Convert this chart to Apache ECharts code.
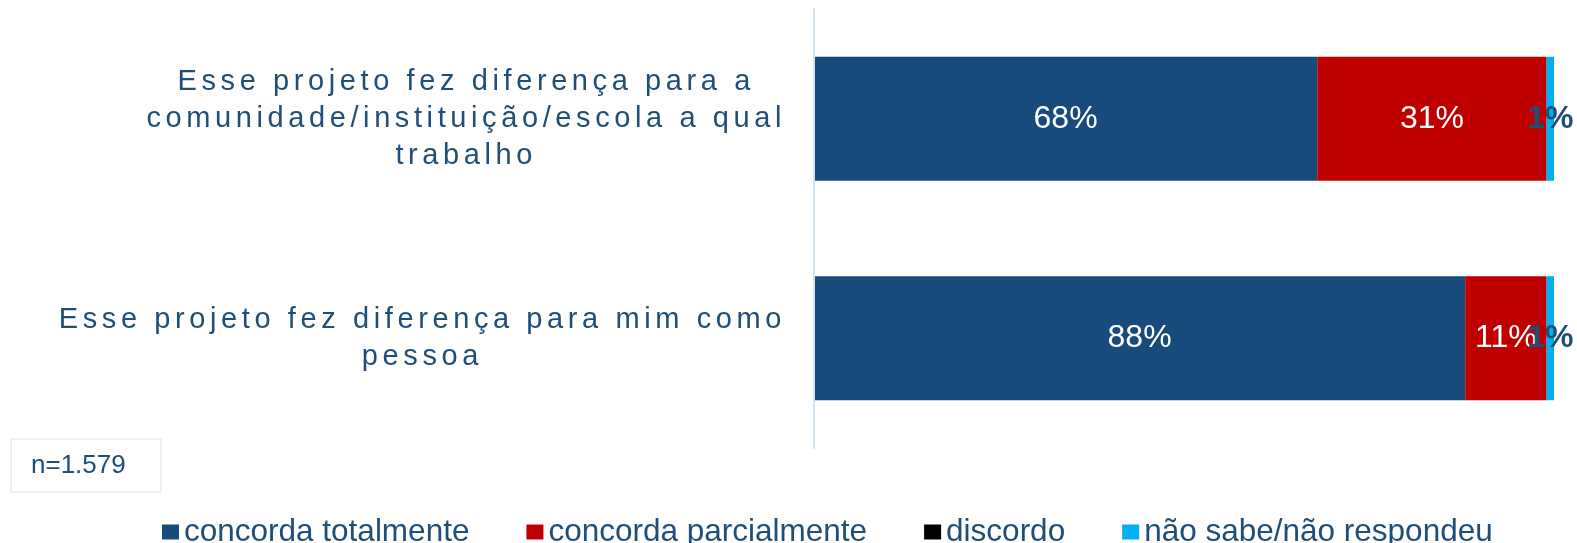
<!DOCTYPE html>
<html>
<head>
<meta charset="utf-8">
<script src="https://cdn.jsdelivr.net/npm/echarts@6/dist/echarts.min.js"></script>
<style>
  html, body { margin: 0; padding: 0; background: #fff; }
  #chart { width: 1577px; height: 543px; }
</style>
</head>
<body>
<div id="chart"></div>
<script>
var categories = [
	'Esse projeto fez diferença para a\ncomunidade/instituição/escola a qual\ntrabalho',
	'Esse projeto fez diferença para mim como\npessoa'
];
var seriesNames = ['concorda totalmente', 'concorda parcialmente', 'discordo', 'não sabe/não respondeu'];
var totalmente = [68, 88];
var parcialmente = [31, 11];
var discordo = [0, 0];
var naoSabe = [1, 1];
var sampleNote = 'n=1.579';

var textColor = '#1F4E79';
var colors = ['#184A7C', '#C00000', '#000000', '#00B0F0'];
var fontFamily = '"Liberation Sans", Arial, sans-serif';

// rótulos do eixo com espaçamento entre letras (canvas letterSpacing)
var labelSize = 29;
var tracking = 4.6;
var labelRight = 786;
var gridLeft = 814;

var mctx = document.createElement('canvas').getContext('2d');
mctx.font = labelSize + 'px ' + fontFamily;
var hasSpacing = 'letterSpacing' in mctx;
if (hasSpacing) mctx.letterSpacing = tracking + 'px';

function blockWidth(str) {
	var w = 0;
	str.split('\n').forEach(function(line) {
		var lw = mctx.measureText(line).width;
		if (!hasSpacing) lw += tracking * line.length;
		if (lw > w) w = lw;
	})
	return w
}
var widths = categories.map(blockWidth);
var maxW = Math.max.apply(null, widths);

var yData = categories.map(function(c, i) {
	return {
		value: c,
		textStyle: {
			align: 'center',
			padding: [0, 0, 0, maxW - widths[i]]
		}
	}
})

var myChart = echarts.init(document.getElementById('chart'));
var axisLayer = myChart.getZr().painter.getLayer(1);
if (axisLayer && axisLayer.ctx && hasSpacing) axisLayer.ctx.letterSpacing = tracking + 'px';

function pct(p) {
	return p.value ? p.value + '%' : ''
}

function makeSeries(name, data, i, labelColor, bold) {
	return {
		name: name,
		type: 'bar',
		stack: 'total',
		data: data,
		barWidth: 124,
		itemStyle: { color: colors[i] },
		label: {
			show: true,
			position: 'inside',
			formatter: pct,
			color: labelColor,
			fontSize: 32,
			fontWeight: bold ? 'bold' : 'normal',
			fontFamily: fontFamily
		}
	}
}

var option = {
	animation: false,
	title: {
		text: sampleNote,
		left: 11,
		top: 439,
		padding: [13, 36, 13, 20],
		borderColor: '#EBEBEB',
		borderWidth: 1.5,
		textStyle: {
			color: textColor,
			fontSize: 26,
			lineHeight: 27,
			fontWeight: 'normal',
			fontFamily: fontFamily
		}
	},
	legend: {
		data: seriesNames,
		left: 157,
		top: 511,
		itemWidth: 17,
		itemHeight: 15,
		itemGap: 57,
		icon: 'rect',
		textStyle: {
			color: textColor,
			fontSize: 31.5,
			fontFamily: fontFamily
		}
	},
	grid: {
		left: gridLeft,
		right: 23,
		top: 9,
		bottom: 95,
		containLabel: false,
		outerBoundsMode: 'none'
	},
	xAxis: {
		type: 'value',
		min: 0,
		max: 100,
		show: false
	},
	yAxis: {
		type: 'category',
		inverse: true,
		data: yData,
		zlevel: 1,
		axisLine: { lineStyle: { color: '#D2E2F3', width: 2 } },
		axisTick: { show: false },
		axisLabel: {
			interval: 0,
			align: 'center',
			margin: gridLeft - (labelRight - maxW / 2),
			color: textColor,
			fontSize: labelSize,
			lineHeight: 37,
			fontFamily: fontFamily
		}
	},
	series: [
		makeSeries(seriesNames[0], totalmente, 0, '#FFFFFF'),
		makeSeries(seriesNames[1], parcialmente, 1, '#FFFFFF'),
		makeSeries(seriesNames[2], discordo, 2, '#FFFFFF'),
		makeSeries(seriesNames[3], naoSabe, 3, textColor, true)
	]
};

myChart.setOption(option);
</script>
</body>
</html>
